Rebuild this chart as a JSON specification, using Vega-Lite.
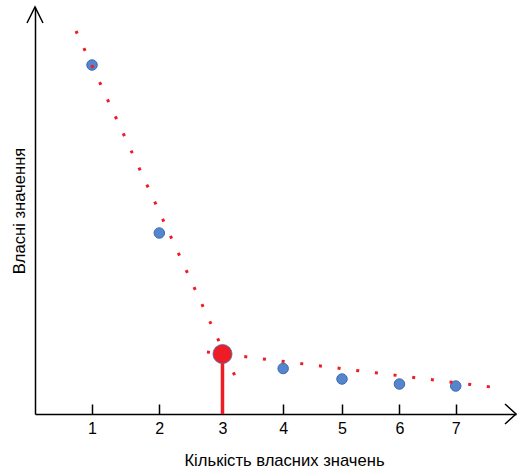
{
  "$schema": "https://vega.github.io/schema/vega-lite/v6.json",
  "width": 481,
  "height": 407,
  "autosize": {"type": "none"},
  "padding": {"left": 35, "top": 7, "right": 3, "bottom": 55},
  "config": {"view": {"stroke": null}, "font": "Liberation Sans"},
  "datasets": {
    "points": [
      {"n": 1, "ev": 3.49},
      {"n": 2, "ev": 1.81},
      {"n": 4, "ev": 0.455},
      {"n": 5, "ev": 0.35},
      {"n": 6, "ev": 0.30},
      {"n": 7, "ev": 0.28}
    ],
    "line1": [{"n": 0.776, "ev": 3.83}, {"n": 3.203, "ev": 0.38}],
    "line2": [{"n": 2.75, "ev": 0.62}, {"n": 7.632, "ev": 0.27}],
    "elbow": [{"n": 3, "ev": 0.6}],
    "arrowUp": [{"n": 0.243, "ev": 4.07}],
    "arrowRight": [{"n": 8.09, "ev": 0}]
  },
  "encoding": {
    "x": {
      "field": "n",
      "type": "quantitative",
      "scale": {"type": "pow", "exponent": 0.88, "domain": [0.243, 8.09], "nice": false, "zero": false},
      "axis": {
        "title": "Кількість власних значень",
        "values": [1, 2, 3, 4, 5, 6, 7],
        "format": "d",
        "grid": false,
        "tickSize": -10,
        "tickWidth": 1.5,
        "tickColor": "#000",
        "domainColor": "#000",
        "domainWidth": 1.5,
        "labelFontSize": 16,
        "labelColor": "#000",
        "labelPadding": 16,
        "labelFlush": false,
        "titleFontSize": 16.6,
        "titleFontWeight": "normal",
        "titleColor": "#000",
        "titleX": 249,
        "titleY": 38,
        "titleAlign": "center",
        "titleBaseline": "top"
      }
    },
    "y": {
      "field": "ev",
      "type": "quantitative",
      "scale": {"domain": [0, 4.07], "nice": false},
      "axis": {
        "title": "Власні значення",
        "ticks": false,
        "labels": false,
        "grid": false,
        "domainColor": "#000",
        "domainWidth": 1.5,
        "titleFontSize": 16.6,
        "titleFontWeight": "normal",
        "titleColor": "#000",
        "titlePadding": 8
      }
    }
  },
  "layer": [
    {
      "data": {"name": "points"},
      "mark": {"type": "circle", "size": 110, "fill": "#5585CC", "stroke": "#3C6AB0", "strokeWidth": 1, "opacity": 1}
    },
    {
      "data": {"name": "line1"},
      "mark": {"type": "line", "color": "#EE1C25", "strokeWidth": 3, "strokeDash": [3, 15.8], "strokeCap": "butt"},
      "encoding": {}
    },
    {
      "data": {"name": "line2"},
      "mark": {"type": "line", "color": "#EE1C25", "strokeWidth": 3, "strokeDash": [3, 15.8], "strokeCap": "butt"},
      "encoding": {}
    },
    {
      "data": {"name": "elbow"},
      "mark": {"type": "rule", "color": "#EE1C25", "strokeWidth": 3.5},
      "encoding": {"y2": {"datum": 0}}
    },
    {
      "data": {"name": "elbow"},
      "mark": {"type": "circle", "size": 365, "fill": "#EE1C25", "stroke": "#4A6FB0", "strokeWidth": 0.8, "opacity": 1}
    },
    {
      "data": {"name": "arrowUp"},
      "mark": {"type": "point", "shape": "M-1,2L0,0L1,2", "size": 256, "filled": false, "stroke": "#000", "strokeWidth": 1.5, "opacity": 1}
    },
    {
      "data": {"name": "arrowRight"},
      "mark": {"type": "point", "shape": "M-1.1,-1L0,0L-1.1,1", "size": 400, "filled": false, "stroke": "#000", "strokeWidth": 1.5, "opacity": 1}
    }
  ]
}
